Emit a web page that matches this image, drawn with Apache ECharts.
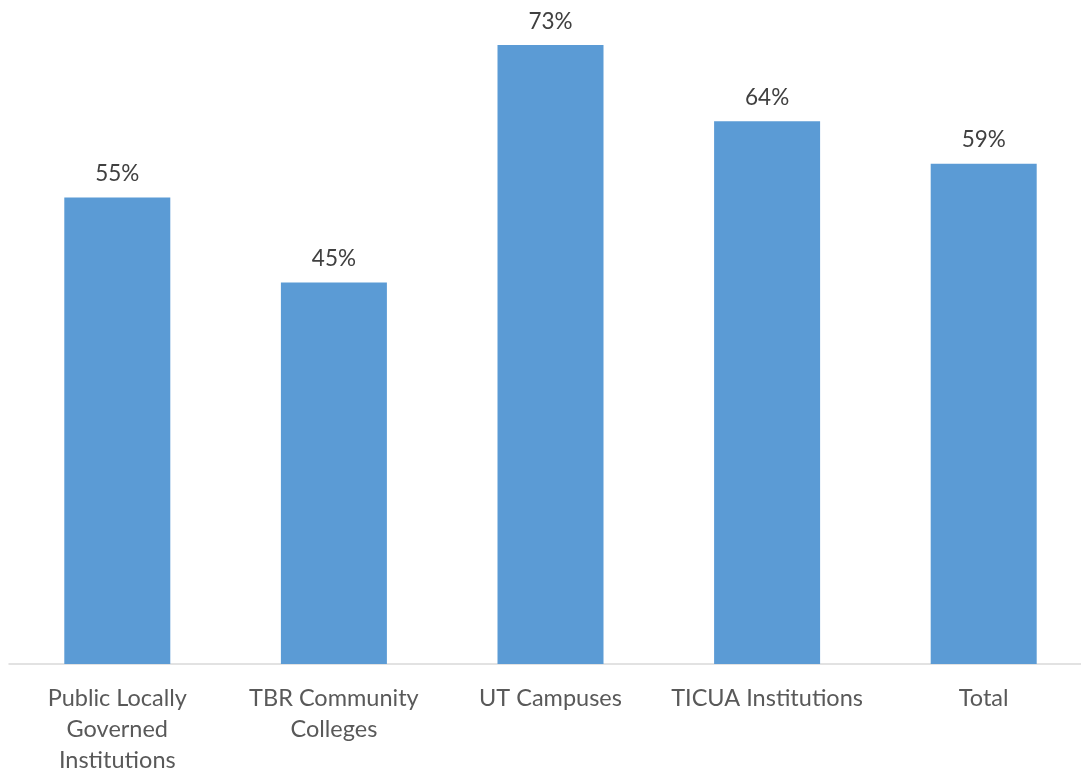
<!DOCTYPE html>
<html><head><meta charset="utf-8">
<script src="https://cdn.jsdelivr.net/npm/echarts@6/dist/echarts.min.js"></script>
<style>html,body{margin:0;padding:0;background:#fff}#c{width:1081px;height:770px}</style>
</head><body><div id="c"></div>
<script>
const categories = ["Public Locally\nGoverned\nInstitutions", "TBR Community\nColleges", "UT Campuses", "TICUA Institutions", "Total"];
const values = [0.55, 0.45, 0.73, 0.64, 0.59];

const chart = echarts.init(document.getElementById('c'));
chart.setOption({
  animation: false,
  grid: { left: 9, width: 1083, top: 28, bottom: 106, containLabel: false, outerBoundsMode: 'none' },
  xAxis: {
    type: 'category', data: categories,
    axisLine: { lineStyle: { color: '#d9d9d9', width: 1.5 } },
    axisTick: { show: false },
    axisLabel: { color: '#595959', fontSize: 23.5, fontFamily: 'Lato, Open Sans, sans-serif', lineHeight: 31, margin: 19, interval: 0 }
  },
  yAxis: { type: 'value', min: 0, max: 0.75, show: false, splitLine: { show: false } },
  series: [{
    type: 'bar', data: values, barWidth: 106,
    itemStyle: { color: '#5b9bd5' },
    label: { show: true, position: 'top', distance: 12, color: '#404040', fontSize: 22.5, fontFamily: 'Lato, Open Sans, sans-serif',
      formatter: p => Math.round(p.value * 100) + '%' }
  }]
});
</script></body></html>
